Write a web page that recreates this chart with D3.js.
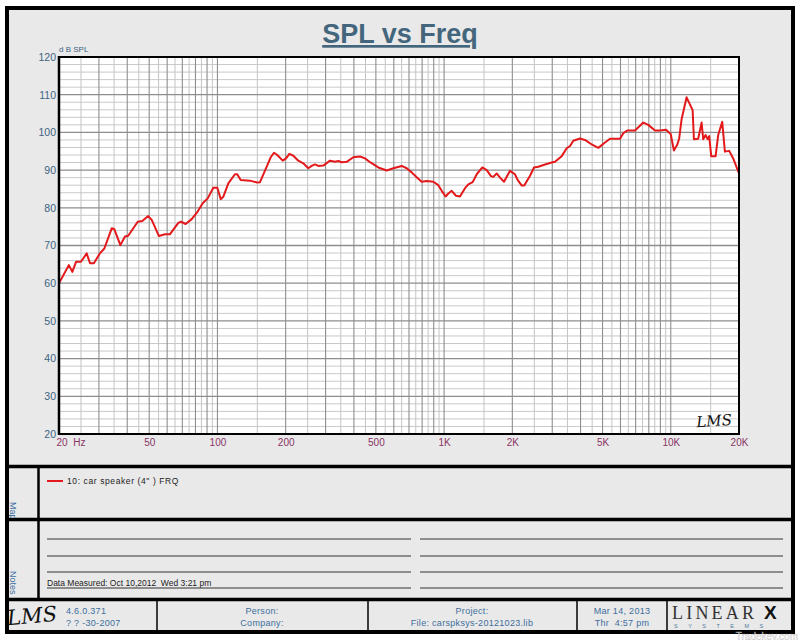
<!DOCTYPE html>
<html><head><meta charset="utf-8">
<script src="https://cdn.jsdelivr.net/npm/d3@7"></script>
<style>html,body{margin:0;padding:0;background:#fff}svg{display:block}</style>
</head><body>
<script>
// ---- data ----
const freqs = [20,22.1,22.9,23.8,25.0,26.5,27.4,28.5,30.3,31.7,34.2,35.1,37.3,39.1,40.4,44.5,46.6,49.5,51.3,55.2,58.7,61.8,67.2,69.1,72.4,77.0,81.8,86.1,90.6,95.9,99.9,103.4,106.1,111.7,119.5,122.3,126.6,139.2,149.9,154.1,165.0,171.8,177.7,183.7,194.1,200.7,207.6,216.2,227.4,239.2,251.7,260.5,269.4,278.6,293.1,313.8,330.2,341.5,353.5,371.9,397.7,425.6,447.9,471.3,512.6,558.3,597,650,684,719.6,757,796,838,896,943,976,1016,1044,1080,1128,1175,1237,1279,1337,1393,1474,1542,1610,1648,1706,1765,1838,1953,2054,2111,2200,2258,2394,2493,2604,2788,2984,3084,3302,3474,3594,3716,3977,4184,4480,4790,5127,5394,5971,6174,6430,6952,7565,7958,8521,8966,9528,9991,10324,10676,10894,11164,11746,12486,12652,13214,13678,13904,14246,14538,14776,15082,15770,16190,16864,17332,18106,18856,20000];
const splDb = [60.0,64.8,63.0,65.7,65.7,67.9,65.3,65.3,67.9,69.2,74.6,74.3,70.1,72.4,72.6,76.3,76.5,77.8,76.8,72.5,73.0,73.0,76.0,76.3,75.7,77.0,79.0,81.2,82.5,85.3,85.3,82.3,82.9,86.5,88.9,88.9,87.4,87.2,86.7,86.8,90.9,93.4,94.6,94.0,92.5,93.1,94.3,93.8,92.5,91.8,90.5,91.1,91.5,91.1,91.2,92.5,92.2,92.4,92.1,92.2,93.4,93.6,93.1,92.1,90.7,89.9,90.5,91.1,90.5,89.4,88.1,86.9,87.1,86.9,86.0,84.5,83.0,83.8,84.5,83.2,83.0,85.2,86.2,86.8,88.9,90.7,90.0,88.4,88.2,89.1,88.0,86.9,89.8,88.9,87.4,85.9,85.9,88.5,90.7,90.9,91.5,92.0,92.2,93.7,95.8,96.4,97.8,98.4,98.0,96.8,95.9,97.3,98.3,98.3,99.8,100.5,100.5,102.6,102.0,100.5,100.5,100.7,99.6,95.2,96.7,98.4,103.5,109.3,105.9,98.2,98.3,102.6,98.2,99.3,98.2,99.0,93.7,93.7,99.3,102.8,94.9,95.1,93.1,89.1];
const yTicks = [20,30,40,50,60,70,80,90,100,110,120];
const xTickValues = [20,50,100,200,500,1000,2000,5000,10000,20000];
const xTickLabels = ["20  Hz","50","100","200","500","1K","2K","5K","10K","20K"];
const gridMultiples = [1,1.5,2,2.5,3,3.5,4,4.5,5,5.5,6,6.5,7,7.5,8,8.5,9,9.5];
const gridDecades = [10,100,1000,10000];
const legendLabel = "10: car speaker (4\" ) FRQ";
const titleText = "SPL vs Freq";

// ---- drawing ----
const W = 800, H = 640;
const svg = d3.select("body").append("svg").attr("width", W).attr("height", H);
const F = "'Liberation Sans', Arial, sans-serif";

svg.append("rect").attr("width", W).attr("height", H).attr("fill", "#fff");
svg.append("rect").attr("x", 7).attr("y", 8).attr("width", 786).attr("height", 624)
  .attr("fill", "#e9e9e9").attr("stroke", "#000").attr("stroke-width", 4);

const x = d3.scaleLog().domain([20, 20000]).range([59, 739]);
const y = d3.scaleLinear().domain([20, 120]).range([434, 57]);

// plot background
svg.append("rect").attr("x", 59).attr("y", 57).attr("width", 680).attr("height", 377).attr("fill", "#fff");

// grid
const g = svg.append("g");
const hMinor = d3.range(20, 121, 2).filter(v => v % 10 !== 0);
g.selectAll(".hm").data(hMinor).join("line")
  .attr("x1", 59).attr("x2", 739).attr("y1", d => y(d)).attr("y2", d => y(d))
  .attr("stroke", "#c9c9c9").attr("stroke-width", 1);
const vLines = [];
gridDecades.forEach(dec => gridMultiples.forEach(m => {
  const f = dec * m; if (f > 20 && f < 20000) vLines.push({f, major: Number.isInteger(m)});
}));
g.selectAll(".vl").data(vLines).join("line")
  .attr("x1", d => x(d.f)).attr("x2", d => x(d.f)).attr("y1", 57).attr("y2", 434)
  .attr("stroke", d => d.major ? "#8e8e8e" : "#c4c4c4").attr("stroke-width", d => d.major ? 1.1 : 1);
g.selectAll(".hM").data(yTicks.slice(1, -1)).join("line")
  .attr("x1", 59).attr("x2", 739).attr("y1", d => y(d)).attr("y2", d => y(d))
  .attr("stroke", "#8e8e8e").attr("stroke-width", 1.3);

// curve
const line = d3.line().x((d, i) => x(freqs[i])).y(d => y(d)).curve(d3.curveLinear);
svg.append("path").datum(splDb).attr("d", line).attr("fill", "none")
  .attr("stroke", "#e3191c").attr("stroke-width", 2).attr("stroke-linejoin", "round");

// frame of plot
svg.append("rect").attr("x", 59).attr("y", 57).attr("width", 680).attr("height", 377)
  .attr("fill", "none").attr("stroke", "#000").attr("stroke-width", 2);
svg.append("line").attr("x1", 59).attr("x2", 59).attr("y1", 56).attr("y2", 435).attr("stroke", "#000").attr("stroke-width", 2.5);

// axes via d3
const yAxis = d3.axisLeft(y).tickValues(yTicks).tickSize(0).tickPadding(3);
const ya = svg.append("g").attr("transform", "translate(59,0)").call(yAxis);
ya.select(".domain").remove();
ya.selectAll("text").attr("font-family", F).attr("font-size", 10.5).attr("fill", "#3c6482");

const xAxis = d3.axisBottom(x).tickValues(xTickValues).tickSize(0).tickPadding(5)
  .tickFormat((d, i) => xTickLabels[i]);
const xa = svg.append("g").attr("transform", "translate(0,434)").call(xAxis);
xa.select(".domain").remove();
xa.selectAll("text").attr("font-family", F).attr("font-size", 10).attr("fill", "#8a3466")
  .attr("xml:space", "preserve").style("white-space", "pre");
xa.selectAll("text").filter((d, i) => i === 0).attr("text-anchor", "start").attr("dx", -3);

svg.append("text").attr("x", 59).attr("y", 52).text("d B SPL")
  .attr("font-family", F).attr("font-size", 8).attr("fill", "#3c6482");

// title
svg.append("text").attr("x", 400).attr("y", 43).attr("text-anchor", "middle").text(titleText)
  .attr("font-family", F).attr("font-weight", "bold").attr("font-size", 27)
  .attr("fill", "#44667d").attr("text-decoration", "underline");

// LMS mark in plot
svg.append("text").attr("x", 714).attr("y", 426).attr("text-anchor", "middle").text("LMS")
  .attr("font-family", "'DejaVu Serif', serif").attr("font-style", "italic").attr("font-size", 15)
  .attr("fill", "#111").attr("transform", "rotate(-4,714,420)");

// ---- lower panels ----
const thick = (x1, y1, x2, y2, w) => svg.append("line").attr("x1", x1).attr("y1", y1).attr("x2", x2).attr("y2", y2)
  .attr("stroke", "#000").attr("stroke-width", w);
thick(7, 466.5, 793, 466.5, 3.5);
thick(7, 519.5, 793, 519.5, 3.5);
thick(7, 599.5, 793, 599.5, 3.5);
thick(38.5, 466, 38.5, 600, 2.5);

// side labels (clipped)
const defs = svg.append("defs");
defs.append("clipPath").attr("id", "cmap").append("rect").attr("x", 9).attr("y", 468).attr("width", 28).attr("height", 50);
defs.append("clipPath").attr("id", "cnotes").append("rect").attr("x", 9).attr("y", 521).attr("width", 28).attr("height", 77);
svg.append("g").attr("clip-path", "url(#cmap)").append("text")
  .attr("transform", "translate(10,502) rotate(90)").text("Map")
  .attr("font-family", F).attr("font-size", 9).attr("fill", "#3c6ea0");
svg.append("g").attr("clip-path", "url(#cnotes)").append("text")
  .attr("transform", "translate(10,571) rotate(90)").text("Notes")
  .attr("font-family", F).attr("font-size", 9).attr("fill", "#3c6ea0");

// legend
svg.append("line").attr("x1", 47).attr("x2", 63).attr("y1", 481).attr("y2", 481).attr("stroke", "#e3191c").attr("stroke-width", 2);
svg.append("text").attr("x", 67).attr("y", 484).text(legendLabel)
  .attr("font-family", F).attr("font-size", 8.5).attr("letter-spacing", 0.6).attr("fill", "#222");

// notes lines
[539, 556, 572, 588].forEach(yy => {
  svg.append("line").attr("x1", 47).attr("x2", 411).attr("y1", yy).attr("y2", yy).attr("stroke", "#333").attr("stroke-width", 1);
  svg.append("line").attr("x1", 420).attr("x2", 783).attr("y1", yy).attr("y2", yy).attr("stroke", "#333").attr("stroke-width", 1);
});
svg.append("text").attr("x", 47).attr("y", 586).text("Data Measured: Oct 10,2012  Wed 3:21 pm")
  .attr("font-family", F).attr("font-size", 8.5).attr("fill", "#222").attr("xml:space", "preserve");

// footer
[157, 368, 577, 667].forEach(xx => thick(xx, 600, xx, 632, 1.5));
const ft = (xx, yy, t, anchor) => svg.append("text").attr("x", xx).attr("y", yy).text(t)
  .attr("text-anchor", anchor || "middle").attr("font-family", F).attr("font-size", 9).attr("fill", "#3d6e9c")
  .attr("letter-spacing", 0.3);
ft(66, 614, "4.6.0.371", "start");
ft(66, 626, "? ? -30-2007", "start");
ft(262, 614, "Person:");
ft(262, 626, "Company:");
ft(472, 614, "Project:");
ft(472, 626, "File: carspksys-20121023.lib");
ft(622, 614, "Mar 14, 2013");
ft(622, 626, "Thr  4:57 pm").attr("xml:space", "preserve");

svg.append("text").attr("x", 32).attr("y", 623).attr("text-anchor", "middle").text("LMS")
  .attr("font-family", "'DejaVu Serif', serif").attr("font-style", "italic").attr("font-size", 21)
  .attr("fill", "#111").attr("transform", "rotate(-5,32,615)");

svg.append("text").attr("x", 672).attr("y", 619).text("LINEAR")
  .attr("font-family", "'Liberation Serif', serif").attr("font-size", 18).attr("letter-spacing", 3.2).attr("fill", "#333");
svg.append("text").attr("x", 764).attr("y", 619).text("X")
  .attr("font-family", "'Liberation Sans', sans-serif").attr("font-weight", "bold").attr("font-size", 19).attr("fill", "#111");
svg.append("text").attr("x", 674).attr("y", 628).text("SYSTEMS")
  .attr("font-family", F).attr("font-size", 5.5).attr("letter-spacing", 10.5).attr("fill", "#4d7a9c");

// watermark
svg.append("text").attr("x", 798).attr("y", 639.5).attr("text-anchor", "end").text("Tradekey.com")
  .attr("font-family", F).attr("font-size", 10).attr("fill", "#f4f4f4").attr("stroke", "#bbb").attr("stroke-width", 0.4).attr("opacity", 0.8);
</script>
</body></html>
